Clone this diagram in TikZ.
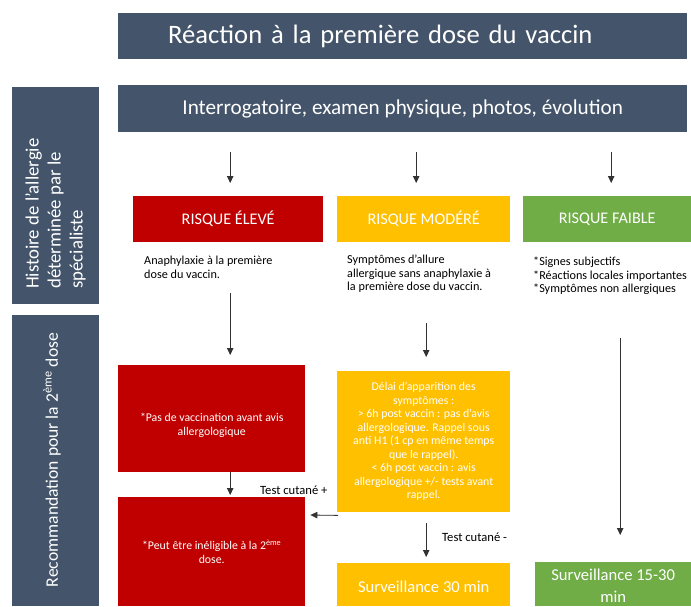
\documentclass[tikz,border=0pt]{standalone}
\usepackage{fontspec}
\setmainfont{Carlito}
\usetikzlibrary{arrows.meta,calc}
\definecolor{slate}{HTML}{44546A}
\definecolor{redx}{HTML}{C00000}
\definecolor{amber}{HTML}{FFC000}
\definecolor{greenx}{HTML}{70AD47}
\newcommand{\lowerby}[2]{\raisebox{-#1}[\height][\depth]{#2}}
\begin{document}
\begin{tikzpicture}[x=1pt,y=-1pt,
  box/.style={draw=none, anchor=north west, inner sep=0pt, text=white, align=center},
  arr/.style={-{Triangle[length=7pt,width=6.5pt]}, line width=0.8pt, draw=black!80, fill=black!80},
  small/.style={font=\fontsize{12.2}{13.5}\selectfont, anchor=north west, align=left, inner sep=0pt},
  inbox/.style={font=\fontsize{11.8}{13.5}\selectfont},
  head/.style={font=\fontsize{16.2}{19}\selectfont},
  side/.style={text=white, inner sep=0pt, rotate=90, font=\fontsize{18.8}{22}\selectfont},
  lbl/.style={font=\fontsize{12.6}{14}\selectfont, anchor=west, inner sep=0pt}]
\useasboundingbox[fill=white] (0,0) rectangle (691,606);

% top banners
\node[box, fill=slate, minimum width=569pt, minimum height=46pt, text width=469pt,
      inner xsep=50pt, align=left, font=\fontsize{26.6}{30}\selectfont] (title) at (118,13)
      {Réaction à la première dose du vaccin};
\node[box, fill=slate, minimum width=569pt, minimum height=47pt,
      font=\fontsize{21.2}{25}\selectfont] (sub) at (118,85)
      {Interrogatoire, examen physique, photos, évolution};

% side banners
\node[box, fill=slate, minimum width=87pt, minimum height=217pt] (hist) at (12,87) {};
\node[side, anchor=west, align=left] (histt) at (55.5,289)
      {Histoire de l’allergie\\déterminée par le\\spécialiste};
\node[box, fill=slate, minimum width=87pt, minimum height=291pt] (reco) at (12,315) {};
\node[side, anchor=center, font=\fontsize{17.6}{20}\selectfont] (recot) at (52,460)
      {Recommandation pour la 2\textsuperscript{ème} dose};

% risk headers
\node[box, fill=redx, minimum width=190pt, minimum height=46pt, head] (hi) at (133,196) {RISQUE ÉLEVÉ};
\node[box, fill=amber, minimum width=173pt, minimum height=46pt, head] (mod) at (337,196) {RISQUE MODÉRÉ};
\node[box, fill=greenx, minimum width=168pt, minimum height=46pt, head] (low) at (523,196) {RISQUE FAIBLE};

% descriptions
\node[small] (hid) at (144,256) {Anaphylaxie à la première\\dose du vaccin.};
\node[small] (modd) at (347,255) {Symptômes d’allure\\allergique sans anaphylaxie à\\la première dose du vaccin.};
\node[small] (lowd) at (533,257) {*Signes subjectifs\\*Réactions locales importantes\\*Symptômes non allergiques};

% recommendation boxes
\node[box, fill=redx, minimum width=187pt, minimum height=107pt, inbox] (red1) at (118,365)
      {\lowerby{7pt}{\begin{tabular}{@{}c@{}}*Pas de vaccination avant avis\\allergologique\end{tabular}}};
\node[box, fill=redx, minimum width=187pt, minimum height=109pt, inbox] (red2) at (118,497)
      {\lowerby{2pt}{\begin{tabular}{@{}c@{}}*Peut être inéligible à la 2\textsuperscript{ème}\\dose.\end{tabular}}};
\node[box, fill=amber, minimum width=173pt, minimum height=141pt, inbox] (ybox) at (337,371)
      {Délai d’apparition des\\symptômes :\\> 6h post vaccin : pas d’avis\\allergologique. Rappel sous\\anti H1 (1 cp en même temps\\que le rappel).\\< 6h post vaccin : avis\\allergologique +/- tests avant\\rappel.};
\node[box, fill=amber, minimum width=173pt, minimum height=43pt, font=\fontsize{16.6}{19}\selectfont] (ybox2) at (337,563)
      {\lowerby{2pt}{Surveillance 30 min}};
\node[box, fill=greenx, minimum width=156pt, minimum height=44pt, font=\fontsize{16.6}{21}\selectfont] (gbox) at (535,562)
      {\lowerby{3pt}{\begin{tabular}{@{}c@{}}Surveillance 15-30\\[1pt]min\end{tabular}}};

% labels
\node[lbl] (tplus) at (260,490) {Test cutané +};
\node[lbl] (tminus) at (442,537) {Test cutané -};

% arrows
\draw[arr] ($(sub.south -| hi.north)+(2,20)$) -- ($(hi.north)+(2,-13)$);
\draw[arr] ($(sub.south -| mod.north)+(-7.5,20)$) -- ($(mod.north)+(-7.5,-13)$);
\draw[arr] ($(sub.south -| low.north)+(4,20)$) -- ($(low.north)+(4,-13)$);
\draw[arr] ($(hi.south)+(2,51)$) -- ($(red1.north)+(18.5,-10)$);
\draw[arr] ($(red1.south)+(18.5,0)$) -- ($(red2.north)+(18.5,-2)$);
\draw[arr] ($(ybox.south west)+(1,3)$) -- ($(red2.north east)+(5,18)$);
\draw[arr] ($(mod.south)+(2.5,81)$) -- ($(ybox.north)+(2.5,-14)$);
\draw[arr] ($(ybox.south)+(2.5,11)$) -- ($(ybox2.north)+(2.5,-6)$);
\draw[arr] ($(low.south -| gbox.north)+(7,96)$) -- ($(gbox.north)+(7,-27)$);
\end{tikzpicture}
\end{document}
